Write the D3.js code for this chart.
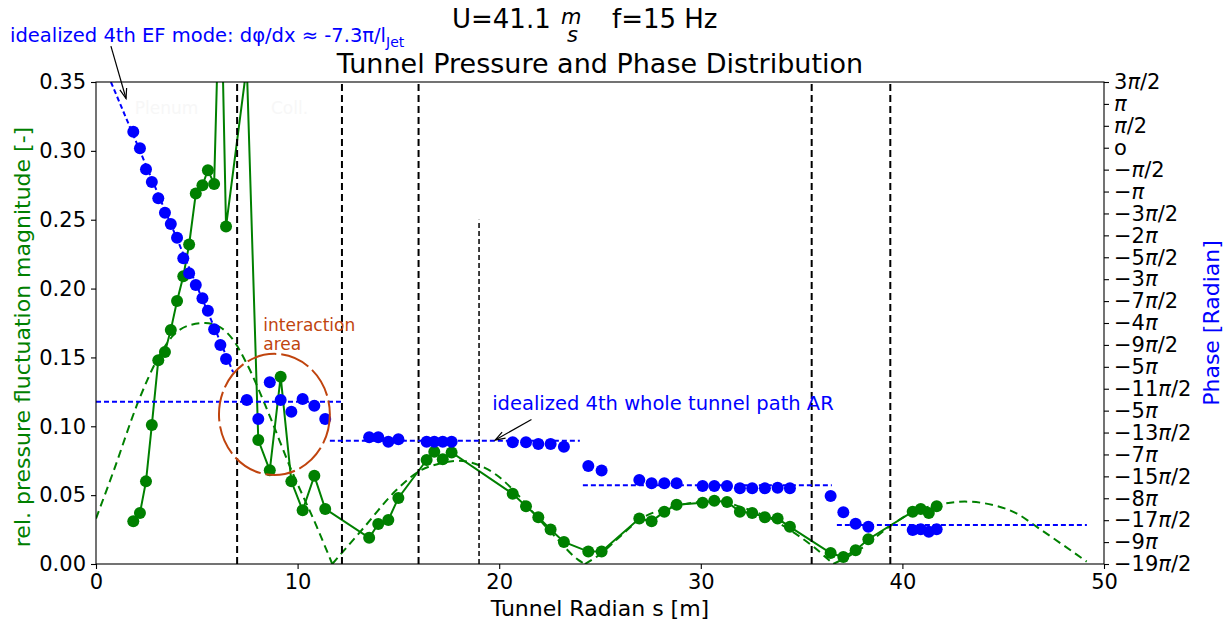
<!DOCTYPE html>
<html>
<head>
<meta charset="utf-8">
<script src="https://cdn.jsdelivr.net/npm/d3@7"></script>
<style>
  body { margin: 0; background: #fff; }
  svg { font-family: "DejaVu Sans", sans-serif; }
</style>
</head>
<body>
<svg id="chart" width="1231" height="628"></svg>
<script>
// tunnel positions of the microphones [m]
const sPos = [1.85, 2.18, 2.48, 2.77, 3.09, 3.42, 3.71, 4.02, 4.33, 4.62, 4.95, 5.28, 5.55, 5.86, 6.17, 6.45,
  7.48, 8.05, 8.62, 9.16, 9.69, 10.25, 10.83, 11.37, 13.55, 14.0, 14.5, 15.0, 16.4, 16.78, 17.2, 17.64,
  20.67, 21.33, 21.94, 22.55, 23.21, 24.42, 25.08, 26.95, 27.56, 28.19, 28.8, 30.09, 30.67, 31.3,
  31.94, 32.55, 33.18, 33.81, 34.42, 36.44, 37.07, 37.68, 38.31, 40.51, 40.91, 41.31, 41.7];

// rel. pressure fluctuation magnitude [-]
const magnitude = [0.031, 0.037, 0.060, 0.101, 0.148, 0.154, 0.170, 0.191, 0.209, 0.232, 0.269, 0.275, 0.286, 0.276, 0.445, 0.245,
  0.362, 0.090, 0.068, 0.136, 0.060, 0.039, 0.064, 0.040, 0.019, 0.029, 0.032, 0.048, 0.0755, 0.0815, 0.076, 0.081,
  0.051, 0.042, 0.034, 0.025, 0.016, 0.009, 0.009, 0.033, 0.031, 0.038, 0.043, 0.0445, 0.046, 0.045,
  0.038, 0.037, 0.034, 0.033, 0.027, 0.008, 0.005, 0.010, 0.018, 0.038, 0.040, 0.037, 0.042];

// phase in units of pi
const phasePi = [0.366, -0.013, -0.492, -0.782, -1.155, -1.483, -1.741, -2.053, -2.524, -2.866, -3.133, -3.437, -3.72, -4.144, -4.503, -4.822,
  -5.758, -6.192, -5.353, -5.758, -6.025, -5.735, -5.888, -6.192, -6.609, -6.609, -6.709, -6.655, -6.709, -6.709, -6.709, -6.709,
  -6.723, -6.723, -6.762, -6.762, -6.823, -7.264, -7.366, -7.583, -7.658, -7.658, -7.658, -7.72, -7.72, -7.72,
  -7.773, -7.773, -7.773, -7.759, -7.773, -7.949, -8.32, -8.58, -8.649, -8.724, -8.709, -8.763, -8.709];

// idealized magnitude (standing wave), [s, value], lobes end at zeros
const fitCurve = [[0, 0.033], [0.86, 0.067], [2.1, 0.118], [3.09, 0.150], [3.83, 0.166], [4.66, 0.1735], [5.41, 0.175],
  [6.15, 0.172], [6.81, 0.1626], [7.47, 0.1457], [8.63, 0.107], [9.62, 0.0707], [10.95, 0.0271], [11.72, 0],
  [13.26, 0.026], [14.9, 0.0537], [15.99, 0.067], [17.06, 0.073], [17.97, 0.075], [18.97, 0.0719], [19.87, 0.0646],
  [20.86, 0.0513], [21.86, 0.0344], [22.85, 0.0187], [23.92, 0.003], [24.25, 0],
  [25.0, 0.007], [26.0, 0.02], [26.95, 0.032], [28.3, 0.0405], [29.63, 0.0445], [30.8, 0.0465], [31.94, 0.0416],
  [33.27, 0.0344], [34.42, 0.0247], [35.58, 0.0126], [36.57, 0],
  [37.73, 0.009], [39.4, 0.0276], [40.54, 0.038], [41.7, 0.0428], [43.1, 0.0453], [44.5, 0.0428], [45.66, 0.0368],
  [46.65, 0.0271], [47.97, 0.0138], [49.14, 0.0017]];

// idealized phase lines, [s, phase/pi]
const phaseFits = [
  [[0.74, 1.5], [6.8, -5.12]],
  [[0, -5.80], [12.2, -5.80]],
  [[11.6, -6.69], [24.0, -6.69]],
  [[24.15, -7.70], [36.5, -7.70]],
  [[36.75, -8.61], [49.15, -8.61]]
];

const wallPos = [7.0, 12.2, 16.0, 35.5, 39.4];
const xTicks = [0, 10, 20, 30, 40, 50];
const yTicks = [0, 0.05, 0.10, 0.15, 0.20, 0.25, 0.30, 0.35];
const phaseTickLabels = ['3π/2', 'π', 'π/2', 'o', '−π/2', '−π', '−3π/2', '−2π', '−5π/2', '−3π', '−7π/2', '−4π',
  '−9π/2', '−5π', '−11π/2', '−5π', '−13π/2', '−7π', '−15π/2', '−8π', '−17π/2', '−9π', '−19π/2'];

let padLeft = 96, padRight = 1104, padTop = 82, padBottom = 564;
let svg = d3.select('#chart');

let x = d3.scaleLinear().domain([0, 50]).range([padLeft, padRight]);
let y = d3.scaleLinear().domain([0, 0.35]).range([padBottom, padTop]);
let yPhase = d3.scaleLinear().domain([-19 * Math.PI / 2, 3 * Math.PI / 2]).range([padBottom, padTop]);

let points = sPos.map((s, i) => ({ s: s, mag: magnitude[i], phase: phasePi[i] * Math.PI }));

let defs = svg.append('defs');
defs.append('clipPath').attr('id', 'plot-clip')
  .append('rect').attr('x', padLeft).attr('y', padTop).attr('width', padRight - padLeft).attr('height', padBottom - padTop);

defs.append('marker')
  .attr('id', 'arrow')
  .attr('markerUnits', 'userSpaceOnUse')
  .attr('markerWidth', 14).attr('markerHeight', 14)
  .attr('refX', 0).attr('refY', 0)
  .attr('viewBox', '-12 -7 14 14')
  .attr('orient', 'auto')
  .append('path')
  .attr('d', 'M-10,-3.5 L0,0 L-10,3.5')
  .attr('fill', 'none').attr('stroke', 'black').attr('stroke-width', 1.2);

let plot = svg.append('g').attr('clip-path', 'url(#plot-clip)');

// faint region names
plot.selectAll('.region')
  .data([['Plenum', 3.5], ['Coll.', 9.6]])
  .enter().append('text')
  .attr('x', d => x(d[1])).attr('y', y(0.327))
  .attr('text-anchor', 'middle')
  .style('font-size', '17px').style('fill', '#f7f7f7')
  .text(d => d[0]);

// idealized magnitude, lobe by lobe
let lobes = [[]];
fitCurve.forEach((p, i) => {
  lobes[lobes.length - 1].push(p);
  if (p[1] === 0 && i < fitCurve.length - 1) lobes.push([p]);
});
let fitLine = d3.line().x(d => x(d[0])).y(d => y(d[1])).curve(d3.curveMonotoneX);
plot.selectAll('.fit')
  .data(lobes)
  .enter().append('path')
  .attr('d', fitLine)
  .attr('fill', 'none').attr('stroke', 'green').attr('stroke-width', 2)
  .attr('stroke-dasharray', '8,5');

// measured magnitude
plot.append('path')
  .datum(points)
  .attr('d', d3.line().x(d => x(d.s)).y(d => y(d.mag)))
  .attr('fill', 'none').attr('stroke', 'green').attr('stroke-width', 2);

plot.selectAll('.mag')
  .data(points)
  .enter().append('circle')
  .attr('cx', d => x(d.s)).attr('cy', d => y(d.mag)).attr('r', 6)
  .attr('fill', 'green');

// section boundaries
plot.selectAll('.wall')
  .data(wallPos)
  .enter().append('line')
  .attr('x1', d => x(d)).attr('x2', d => x(d))
  .attr('y1', y(0)).attr('y2', y(0.35))
  .attr('stroke', 'black').attr('stroke-width', 2).attr('stroke-dasharray', '7,4');

plot.append('line')
  .attr('x1', x(19)).attr('x2', x(19))
  .attr('y1', y(0)).attr('y2', y(0.25))
  .attr('stroke', 'black').attr('stroke-width', 1.5).attr('stroke-dasharray', '5,3');

// idealized phase
plot.selectAll('.pfit')
  .data(phaseFits)
  .enter().append('path')
  .attr('d', d3.line().x(d => x(d[0])).y(d => yPhase(d[1] * Math.PI)))
  .attr('fill', 'none').attr('stroke', 'blue').attr('stroke-width', 2)
  .attr('stroke-dasharray', '5,3');

plot.selectAll('.phase')
  .data(points)
  .enter().append('circle')
  .attr('cx', d => x(d.s)).attr('cy', d => yPhase(d.phase)).attr('r', 6)
  .attr('fill', 'blue');

// interaction area
let orange = '#c0440e';
plot.append('ellipse')
  .attr('cx', x(8.85)).attr('cy', y(0.1086))
  .attr('rx', x(8.85 + 2.75) - x(8.85)).attr('ry', y(0) - y(0.044))
  .attr('fill', 'none').attr('stroke', orange).attr('stroke-width', 2)
  .attr('stroke-dasharray', '30,5');

svg.selectAll('.inter')
  .data(['interaction', 'area'])
  .enter().append('text')
  .attr('x', x(8.3)).attr('y', (d, i) => y(0.169) + i * 19)
  .style('font-size', '17px').style('fill', orange)
  .text(d => d);

// annotations
svg.append('text')
  .attr('x', x(19.65)).attr('y', y(0.1115))
  .style('font-size', '19.5px').style('fill', 'blue')
  .text('idealized 4th whole tunnel path AR');

svg.append('line')
  .attr('x1', x(21.6)).attr('y1', y(0.105))
  .attr('x2', x(19.8)).attr('y2', y(0.090))
  .attr('stroke', 'black').attr('stroke-width', 1.2)
  .attr('marker-end', 'url(#arrow)');

let efText = svg.append('text')
  .attr('x', 10).attr('y', 42)
  .style('font-size', '19.5px').style('fill', 'blue');
efText.append('tspan').text('idealized 4th EF mode: dφ/dx ≈ -7.3π/l');
efText.append('tspan').attr('dy', 5).style('font-size', '14px').text('Jet');

svg.append('line')
  .attr('x1', x(0.74)).attr('y1', y(0.376))
  .attr('x2', x(1.49)).attr('y2', y(0.338))
  .attr('stroke', 'black').attr('stroke-width', 1.2)
  .attr('marker-end', 'url(#arrow)');

// axes
let xAxis = svg.append('g')
  .attr('transform', `translate(0, ${padBottom})`)
  .call(d3.axisBottom(x).tickValues(xTicks).tickSize(5).tickPadding(5).tickFormat(d3.format('d')));

let yAxis = svg.append('g')
  .attr('transform', `translate(${padLeft}, 0)`)
  .call(d3.axisLeft(y).tickValues(yTicks).tickSize(5).tickPadding(5).tickFormat(d3.format('.2f')));

let phaseTicks = phaseTickLabels.map((t, i) => (3 - i) * Math.PI / 2);
let rAxis = svg.append('g')
  .attr('transform', `translate(${padRight}, 0)`)
  .call(d3.axisRight(yPhase).tickValues(phaseTicks).tickSize(5).tickPadding(5)
    .tickFormat((d, i) => phaseTickLabels[i]));

rAxis.selectAll('text').each(function () {
  let label = d3.select(this);
  let parts = label.text().split(/(π)/);
  label.text('');
  parts.filter(p => p).forEach(p => {
    label.append('tspan').style('font-style', p === 'π' ? 'italic' : null).text(p);
  });
});

[xAxis, yAxis, rAxis].forEach(a => {
  a.select('.domain').remove();
  a.selectAll('line').attr('stroke', 'black').attr('stroke-width', 1.1);
  a.selectAll('text').style('font-size', '21px').style('font-family', '"DejaVu Sans", sans-serif').attr('fill', 'black');
});

svg.append('rect')
  .attr('x', padLeft).attr('y', padTop).attr('width', padRight - padLeft).attr('height', padBottom - padTop)
  .attr('fill', 'none').attr('stroke', 'black').attr('stroke-width', 1.1);

// labels
svg.append('text')
  .attr('x', (padLeft + padRight) / 2).attr('y', 616)
  .attr('text-anchor', 'middle').style('font-size', '22px')
  .text('Tunnel Radian s [m]');

svg.append('text')
  .attr('transform', `translate(30, ${(padTop + padBottom) / 2 + 14}) rotate(-90)`)
  .attr('text-anchor', 'middle').style('font-size', '22px').style('fill', 'green')
  .text('rel. pressure fluctuation magnitude [-]');

svg.append('text')
  .attr('transform', `translate(1219, ${(padTop + padBottom) / 2}) rotate(-90)`)
  .attr('text-anchor', 'middle').style('font-size', '22px').style('fill', 'blue')
  .text('Phase [Radian]');

// titles
svg.append('text')
  .attr('x', (padLeft + padRight) / 2).attr('y', 73)
  .attr('text-anchor', 'middle').style('font-size', '27px')
  .text('Tunnel Pressure and Phase Distribution');

// U=41.1 m/s  f=15 Hz, the unit as a stacked fraction
let suptitle = svg.append('text').attr('y', 28).style('font-size', '26px');
suptitle.append('tspan').attr('x', 452).text('U=41.1');
suptitle.append('tspan').attr('x', 561).attr('y', 24)
  .style('font-size', '21px').style('font-style', 'italic').text('m');
suptitle.append('tspan').attr('x', 567).attr('y', 42)
  .style('font-size', '21px').style('font-style', 'italic').text('s');
suptitle.append('tspan').attr('x', 612).attr('y', 28).text('f=15 Hz');
</script>
</body>
</html>
